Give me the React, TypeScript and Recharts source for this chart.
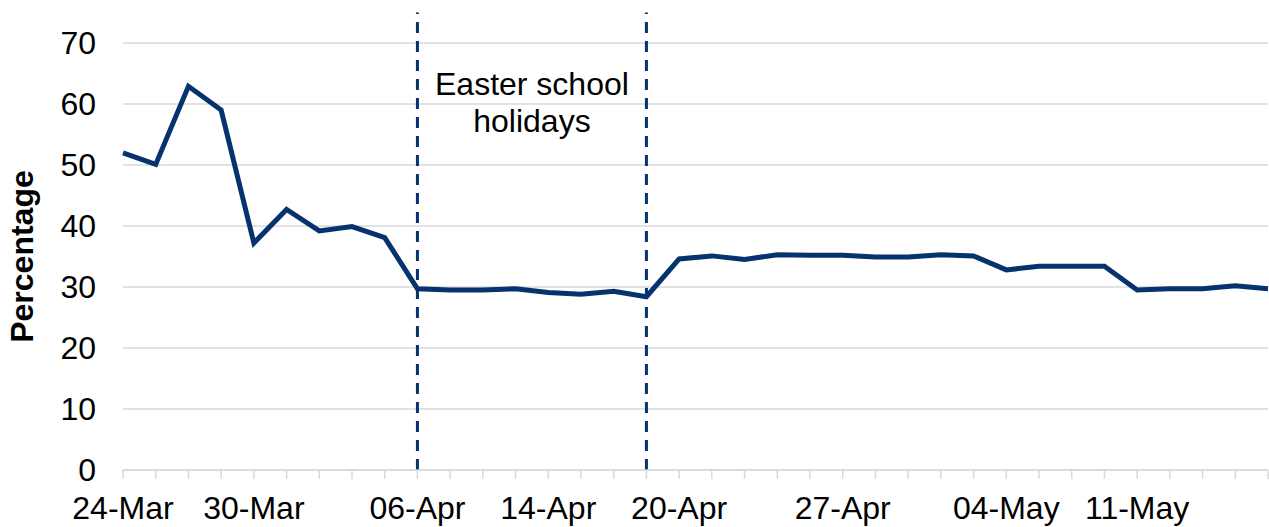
import React from 'react';
import {
  LineChart,
  Line,
  XAxis,
  YAxis,
  CartesianGrid,
  ReferenceLine,
  ReferenceArea,
} from 'recharts';

// weekdays only (bank holidays 10/13 Apr and 8 May missing)
const dates = [
  '24-Mar', '25-Mar', '26-Mar', '27-Mar',
  '30-Mar', '31-Mar', '01-Apr', '02-Apr', '03-Apr',
  '06-Apr', '07-Apr', '08-Apr', '09-Apr',
  '14-Apr', '15-Apr', '16-Apr', '17-Apr',
  '20-Apr', '21-Apr', '22-Apr', '23-Apr', '24-Apr',
  '27-Apr', '28-Apr', '29-Apr', '30-Apr', '01-May',
  '04-May', '05-May', '06-May', '07-May',
  '11-May', '12-May', '13-May', '14-May', '15-May',
];

const percentage = [
  52, 50.1, 62.9, 59,
  37.2, 42.7, 39.2, 39.9, 38.1,
  29.7, 29.5, 29.5, 29.7,
  29.1, 28.8, 29.3, 28.4,
  34.6, 35.1, 34.5, 35.3, 35.2,
  35.2, 34.9, 34.9, 35.3, 35.1,
  32.8, 33.4, 33.4, 33.4,
  29.5, 29.7, 29.7, 30.2, 29.7,
];

const shownLabels = ['24-Mar', '30-Mar', '06-Apr', '14-Apr', '20-Apr', '27-Apr', '04-May', '11-May'];
const yTicks = [0, 10, 20, 30, 40, 50, 60, 70];
const holidayStart = '06-Apr';
const holidayEnd = '17-Apr';

const NAVY = '#06326e';
const GRID = '#d9d9d9';
const FONT = '"Liberation Sans", Arial, sans-serif';
const FS = 32;

const data = dates.map((d, i) => ({ date: d, value: percentage[i] }));

function YTitle(props: any) {
  const vb = props.viewBox || {};
  const cx = 22;
  const cy = (vb.y ?? 0) + (vb.height ?? 0) / 2;
  return (
    <text
      x={cx}
      y={cy}
      transform={`rotate(-90, ${cx}, ${cy})`}
      textAnchor="middle"
      dominantBaseline="central"
      fontFamily={FONT}
      fontSize={FS}
      fontWeight="bold"
      fill="#000"
    >
      Percentage
    </text>
  );
}

function HolidayLabel(props: any) {
  const vb = props.viewBox || {};
  const cx = vb.x + vb.width / 2;
  return (
    <text textAnchor="middle" fontFamily={FONT} fontSize={FS} fill="#000">
      <tspan x={cx} y={vb.y + 52}>Easter school</tspan>
      <tspan x={cx} y={vb.y + 89}>holidays</tspan>
    </text>
  );
}

export default function App() {
  return (
    <div style={{ position: 'absolute', left: 0, top: 0, background: '#fff' }}>
      <LineChart
        width={1269}
        height={527}
        data={data}
        margin={{ top: 43, right: 1, left: 0, bottom: 7 }}
      >
        <CartesianGrid stroke={GRID} strokeWidth={1.5} vertical={false} />
        <XAxis
          dataKey="date"
          interval={0}
          height={50}
          tickFormatter={(d: string) => (shownLabels.includes(d) ? d : '')}
          tick={{ fill: '#000', fontSize: FS, fontFamily: FONT }}
          axisLine={{ stroke: GRID, strokeWidth: 1.5 }}
          tickLine={{ stroke: GRID, strokeWidth: 1.5 }}
          tickSize={9}
          tickMargin={17}
        />
        <YAxis
          domain={[0, 70]}
          ticks={yTicks}
          width={123}
          axisLine={false}
          tickLine={false}
          tickSize={0}
          tickMargin={27}
          tick={{ fill: '#000', fontSize: FS, fontFamily: FONT }}
          label={{ content: YTitle }}
        />
        <ReferenceArea
          x1={holidayStart}
          x2={holidayEnd}
          y1={55}
          y2={70}
          fill="none"
          stroke="none"
          label={{ content: HolidayLabel }}
        />
        <ReferenceLine
          segment={[{ x: holidayStart, y: 0 }, { x: holidayStart, y: 75 }]}
          ifOverflow="visible"
          stroke={NAVY}
          strokeWidth={3}
          strokeDasharray="11 8"
        />
        <ReferenceLine
          segment={[{ x: holidayEnd, y: 0 }, { x: holidayEnd, y: 75 }]}
          ifOverflow="visible"
          stroke={NAVY}
          strokeWidth={3}
          strokeDasharray="11 8"
        />
        <Line
          type="linear"
          dataKey="value"
          stroke={NAVY}
          strokeWidth={5}
          dot={false}
          isAnimationActive={false}
        />
      </LineChart>
    </div>
  );
}
